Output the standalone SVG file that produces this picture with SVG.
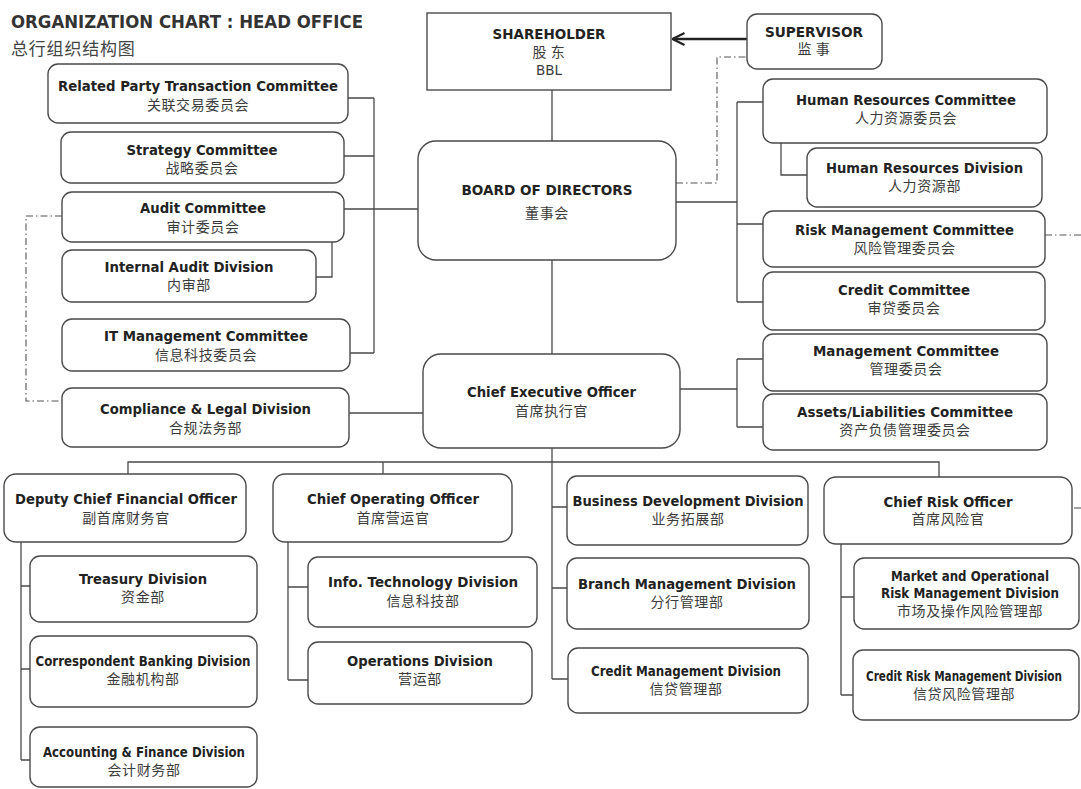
<svg xmlns="http://www.w3.org/2000/svg" width="1081" height="789" viewBox="0 0 1081 789">
<defs>
<style>
.box{fill:#fff;stroke:#4a4a4a;stroke-width:1.4}
.en{font-family:"DejaVu Sans","Liberation Sans",sans-serif;font-weight:bold;font-size:13.5px;fill:#222;text-anchor:middle}
.zh{font-family:"Noto Sans CJK SC",sans-serif;font-size:14px;fill:#3c3c3c;text-anchor:middle;letter-spacing:0.6px}
.rg{font-family:"DejaVu Sans","Liberation Sans",sans-serif;font-size:13.5px;fill:#3c3c3c;text-anchor:middle}
.ln{fill:none;stroke:#4a4a4a;stroke-width:1.3}
.dd{fill:none;stroke:#555;stroke-width:1.1;stroke-dasharray:7 3 1.5 3}
</style>
<marker id="arr" viewBox="0 0 14 14" refX="12.5" refY="7" markerWidth="14" markerHeight="14" markerUnits="userSpaceOnUse" orient="auto">
<path d="M1,1 L13,7 L1,13" fill="none" stroke="#222" stroke-width="2.2"/>
</marker>
</defs>
<rect width="1081" height="789" fill="#fff"/>

<g id="title">
<text x="11" y="28" font-family="DejaVu Sans, Liberation Sans, sans-serif" font-weight="bold" font-size="17" fill="#333" textLength="352" lengthAdjust="spacingAndGlyphs">ORGANIZATION CHART : HEAD OFFICE</text>
<text x="11" y="55" font-family="Noto Sans CJK SC, sans-serif" font-size="17" fill="#444" letter-spacing="0.8">总行组织结构图</text>
</g>

<g id="connectors">
<path class="ln" d="M552,90 V141 M552,260 V354 M552,448 V679"/>
<path class="ln" d="M348,98 H374 M344,156 H374 M344,209 H418 M350,353 H374 M374,98 V353"/>
<path class="ln" d="M332,242 V277 H316"/>
<path class="ln" d="M349,413 H423"/>
<path class="ln" d="M676,202 H737 M737,102 V302 M737,102 H763 M737,224 H763 M737,302 H763"/>
<path class="ln" d="M781,143 V175 H807"/>
<path class="ln" d="M680,389 H737 M737,359 V427 M737,359 H763 M737,427 H763"/>
<path class="ln" d="M128,474 V462 H939 V477 M383,462 V474"/>
<path class="ln" d="M21,542 V760 M21,586 H30 M21,669 H30 M21,760 H30"/>
<path class="ln" d="M288,542 V680 M288,587 H308 M288,680 H308"/>
<path class="ln" d="M552,507 H567 M552,588 H567 M552,679 H568"/>
<path class="ln" d="M841,544 V695 M841,597 H854 M841,695 H853"/>
<path class="dd" d="M676,183 H717 V57 H747"/>
<path class="dd" d="M62,216 H26 V401 H62"/>
<path class="dd" d="M1045,235 H1081"/>
<path class="dd" d="M1074,508 H1081"/>
<path d="M747,39 H673" fill="none" stroke="#222" stroke-width="2.4" marker-end="url(#arr)"/>
</g>

<g id="shareholder">
<rect class="box" x="427" y="13" width="244" height="77"/>
<text class="en" x="549" y="39" textLength="113" lengthAdjust="spacingAndGlyphs">SHAREHOLDER</text>
<text class="zh" x="549" y="57">股 东</text>
<text class="rg" x="549" y="75">BBL</text>
</g>

<g id="supervisor">
<rect class="box" x="747" y="14" width="135" height="55" rx="10"/>
<text class="en" x="814" y="37" textLength="98" lengthAdjust="spacingAndGlyphs">SUPERVISOR</text>
<text class="zh" x="814" y="54">监 事</text>
</g>

<g id="board">
<rect class="box" x="418" y="141" width="258" height="119" rx="18"/>
<text class="en" x="547" y="195" textLength="171" lengthAdjust="spacingAndGlyphs">BOARD OF DIRECTORS</text>
<text class="zh" x="547" y="218">董事会</text>
</g>

<g id="related-party">
<rect class="box" x="48" y="64" width="300" height="59" rx="10"/>
<text class="en" x="198" y="91" textLength="280" lengthAdjust="spacingAndGlyphs">Related Party Transaction Committee</text>
<text class="zh" x="198" y="110">关联交易委员会</text>
</g>

<g id="strategy">
<rect class="box" x="61" y="132" width="283" height="51" rx="10"/>
<text class="en" x="202" y="155" textLength="151" lengthAdjust="spacingAndGlyphs">Strategy Committee</text>
<text class="zh" x="202" y="173">战略委员会</text>
</g>

<g id="audit">
<rect class="box" x="62" y="192" width="282" height="50" rx="10"/>
<text class="en" x="203" y="213" textLength="126" lengthAdjust="spacingAndGlyphs">Audit Committee</text>
<text class="zh" x="203" y="232">审计委员会</text>
</g>

<g id="internal-audit">
<rect class="box" x="62" y="250" width="254" height="52" rx="10"/>
<text class="en" x="189" y="272" textLength="169" lengthAdjust="spacingAndGlyphs">Internal Audit Division</text>
<text class="zh" x="189" y="290">内审部</text>
</g>

<g id="it-management">
<rect class="box" x="62" y="319" width="288" height="52" rx="10"/>
<text class="en" x="206" y="341" textLength="204" lengthAdjust="spacingAndGlyphs">IT Management Committee</text>
<text class="zh" x="206" y="360">信息科技委员会</text>
</g>

<g id="compliance">
<rect class="box" x="62" y="388" width="287" height="59" rx="10"/>
<text class="en" x="205.5" y="414" textLength="211" lengthAdjust="spacingAndGlyphs">Compliance &amp; Legal Division</text>
<text class="zh" x="205.5" y="433">合规法务部</text>
</g>

<g id="hr-committee">
<rect class="box" x="763" y="79" width="284" height="64" rx="10"/>
<text class="en" x="906" y="105" textLength="220" lengthAdjust="spacingAndGlyphs">Human Resources Committee</text>
<text class="zh" x="906" y="123">人力资源委员会</text>
</g>

<g id="hr-division">
<rect class="box" x="807" y="148" width="235" height="59" rx="10"/>
<text class="en" x="924.5" y="173" textLength="197" lengthAdjust="spacingAndGlyphs">Human Resources Division</text>
<text class="zh" x="924.5" y="191">人力资源部</text>
</g>

<g id="risk-committee">
<rect class="box" x="763" y="211" width="282" height="56" rx="10"/>
<text class="en" x="904.5" y="235" textLength="219" lengthAdjust="spacingAndGlyphs">Risk Management Committee</text>
<text class="zh" x="904.5" y="253">风险管理委员会</text>
</g>

<g id="credit-committee">
<rect class="box" x="763" y="272" width="282" height="58" rx="10"/>
<text class="en" x="904" y="295" textLength="132" lengthAdjust="spacingAndGlyphs">Credit Committee</text>
<text class="zh" x="904" y="313">审贷委员会</text>
</g>

<g id="ceo">
<rect class="box" x="423" y="354" width="257" height="94" rx="18"/>
<text class="en" x="551.5" y="397" textLength="169" lengthAdjust="spacingAndGlyphs">Chief Executive Officer</text>
<text class="zh" x="551.5" y="416">首席执行官</text>
</g>

<g id="management-committee">
<rect class="box" x="763" y="334" width="284" height="57" rx="10"/>
<text class="en" x="906" y="356" textLength="186" lengthAdjust="spacingAndGlyphs">Management Committee</text>
<text class="zh" x="906" y="374">管理委员会</text>
</g>

<g id="alco">
<rect class="box" x="763" y="394" width="284" height="56" rx="10"/>
<text class="en" x="905" y="417" textLength="216" lengthAdjust="spacingAndGlyphs">Assets/Liabilities Committee</text>
<text class="zh" x="905" y="435">资产负债管理委员会</text>
</g>

<g id="deputy-cfo">
<rect class="box" x="4" y="474" width="242" height="68" rx="12"/>
<text class="en" x="126" y="504" textLength="222" lengthAdjust="spacingAndGlyphs">Deputy Chief Financial Officer</text>
<text class="zh" x="126" y="523">副首席财务官</text>
</g>

<g id="treasury">
<rect class="box" x="30" y="556" width="227" height="66" rx="10"/>
<text class="en" x="143" y="584" textLength="128" lengthAdjust="spacingAndGlyphs">Treasury Division</text>
<text class="zh" x="143" y="602">资金部</text>
</g>

<g id="correspondent">
<rect class="box" x="30" y="636" width="227" height="71" rx="10"/>
<text class="en" x="143" y="666" textLength="215" lengthAdjust="spacingAndGlyphs">Correspondent Banking Division</text>
<text class="zh" x="143" y="684">金融机构部</text>
</g>

<g id="accounting">
<rect class="box" x="30" y="727" width="227" height="60" rx="10"/>
<text class="en" x="144" y="757" textLength="202" lengthAdjust="spacingAndGlyphs">Accounting &amp; Finance Division</text>
<text class="zh" x="144" y="775">会计财务部</text>
</g>

<g id="coo">
<rect class="box" x="273" y="474" width="239" height="68" rx="12"/>
<text class="en" x="393" y="504" textLength="172" lengthAdjust="spacingAndGlyphs">Chief Operating Officer</text>
<text class="zh" x="393" y="523">首席营运官</text>
</g>

<g id="info-tech">
<rect class="box" x="308" y="557" width="229" height="70" rx="10"/>
<text class="en" x="423" y="587" textLength="190" lengthAdjust="spacingAndGlyphs">Info. Technology Division</text>
<text class="zh" x="423" y="606">信息科技部</text>
</g>

<g id="operations">
<rect class="box" x="308" y="642" width="224" height="62" rx="10"/>
<text class="en" x="420" y="666" textLength="146" lengthAdjust="spacingAndGlyphs">Operations Division</text>
<text class="zh" x="420" y="684">营运部</text>
</g>

<g id="business-development">
<rect class="box" x="567" y="476" width="241" height="69" rx="10"/>
<text class="en" x="688" y="506" textLength="231" lengthAdjust="spacingAndGlyphs">Business Development Division</text>
<text class="zh" x="688" y="524">业务拓展部</text>
</g>

<g id="branch-management">
<rect class="box" x="567" y="558" width="242" height="71" rx="10"/>
<text class="en" x="687" y="589" textLength="218" lengthAdjust="spacingAndGlyphs">Branch Management Division</text>
<text class="zh" x="687" y="607">分行管理部</text>
</g>

<g id="credit-management">
<rect class="box" x="568" y="648" width="240" height="65" rx="10"/>
<text class="en" x="686" y="676" textLength="190" lengthAdjust="spacingAndGlyphs">Credit Management Division</text>
<text class="zh" x="686" y="694">信贷管理部</text>
</g>

<g id="cro">
<rect class="box" x="824" y="477" width="248" height="67" rx="12"/>
<text class="en" x="948" y="507" textLength="129" lengthAdjust="spacingAndGlyphs">Chief Risk Officer</text>
<text class="zh" x="948" y="524">首席风险官</text>
</g>

<g id="market-operational-risk">
<rect class="box" x="854" y="558" width="225" height="71" rx="10"/>
<text class="en" x="970" y="581" font-size="12" textLength="158" lengthAdjust="spacingAndGlyphs">Market and Operational</text>
<text class="en" x="970" y="598" font-size="12" textLength="178" lengthAdjust="spacingAndGlyphs">Risk Management Division</text>
<text class="zh" x="970" y="616" font-size="13">市场及操作风险管理部</text>
</g>

<g id="credit-risk">
<rect class="box" x="853" y="650" width="226" height="70" rx="10"/>
<text class="en" x="964" y="681" font-size="10.5" textLength="196" lengthAdjust="spacingAndGlyphs">Credit Risk Management Division</text>
<text class="zh" x="964" y="699" font-size="13">信贷风险管理部</text>
</g>
</svg>
